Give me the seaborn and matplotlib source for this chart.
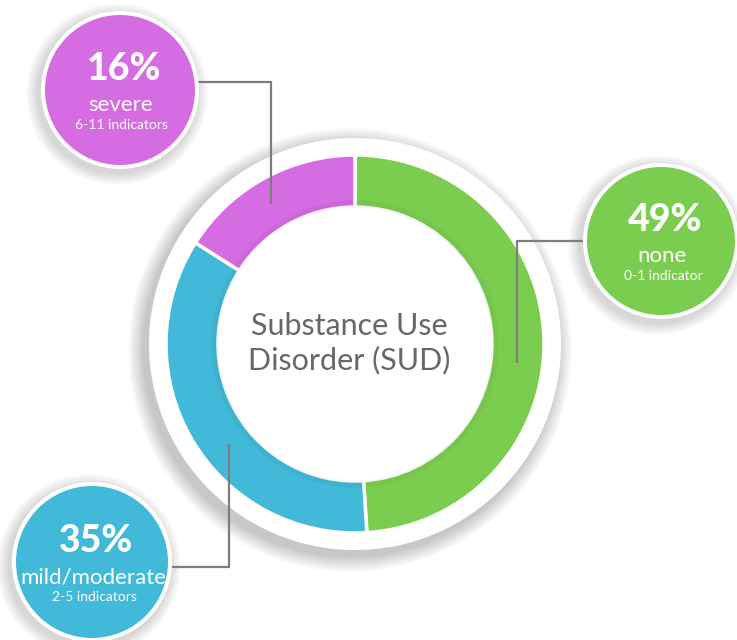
import matplotlib
matplotlib.use("Agg")
import matplotlib.pyplot as plt
from matplotlib.patches import Circle
import seaborn as sns

# data
labels = ["none", "mild/moderate", "severe"]
shares = [49, 35, 16]
ranges = ["0-1 indicator", "2-5 indicators", "6-11 indicators"]
colors = ["#7BCD4F", "#42B9D8", "#D56CE1"]
title_lines = ["Substance Use", "Disorder (SUD)"]

sns.set_theme(style="white")
palette = sns.color_palette(colors)

W, H = 737, 640
fig = plt.figure(figsize=(W / 100, H / 100), dpi=100)
ax = fig.add_axes([0, 0, 1, 1])

# layout (pixels, y down)
cx, cy = 355, 344
r_out, r_in, r_white = 189, 137, 206
bubbles = [(661, 241, 74), (92, 562, 76), (120, 90, 75)]
leaders = [
    [(585, 241), (517, 241), (517, 363)],
    [(168, 567), (229, 567), (229, 444)],
    [(198, 82), (271, 82), (271, 204)],
]


def shadow(x, y, r, ax, n=14, spread=16, dx=-5, dy=6, a=0.014):
    for i in range(n, 0, -1):
        ax.add_patch(Circle((x + dx, y + dy), r + spread * i / n,
                            color="black", alpha=a, lw=0, zorder=1))


# main ring
shadow(cx, cy, r_white, ax)
ax.add_patch(Circle((cx, cy), r_white, color="white", lw=0, zorder=2))
ax.pie(shares, colors=palette, startangle=-90, counterclock=True,
       center=(cx, cy), radius=r_out,
       wedgeprops=dict(width=r_out - r_in, edgecolor="white", linewidth=2.5),
       frame=True)
for p in ax.patches[-3:]:
    p.set_zorder(3)
# soft inner shading of ring
for i in range(6):
    ax.add_patch(Circle((cx, cy), r_in + i * 1.2, fill=False,
                        ec="black", alpha=0.025, lw=1.3, zorder=4))
ax.add_patch(Circle((cx, cy), r_in - 0.5, color="white", lw=0, zorder=4))

ax.text(cx - 6, cy - 18, title_lines[0], ha="center", va="center",
        fontsize=22, color="#676767", family=["Lato", "DejaVu Sans"], zorder=6)
ax.text(cx - 6, cy + 16, title_lines[1], ha="center", va="center",
        fontsize=22, color="#676767", family=["Lato", "DejaVu Sans"], zorder=6)

# leader lines
for pts in leaders:
    xs, ys = zip(*pts)
    ax.plot(xs, ys, color="#7d7d7d", lw=1.6, zorder=7, solid_capstyle="butt")

# bubbles
for (bx, by, br), col, lab, rng, val in zip(bubbles, palette, labels, ranges, shares):
    shadow(bx, by, br + 4, ax, n=10, spread=12, dx=-3, dy=4)
    ax.add_patch(Circle((bx, by), br + 4, color="white", lw=0, zorder=8))
    ax.add_patch(Circle((bx, by), br, color=col, lw=0, zorder=9))
    ax.text(bx + 4, by - 21, f"{val}%", ha="center", va="center", fontsize=27,
            fontweight="black", color="white",
            family=["Lato", "Roboto", "DejaVu Sans"], zorder=10)
    ax.text(bx + 1, by + 15, lab, ha="center", va="center", fontsize=16,
            color="white", family=["Lato", "DejaVu Sans"], zorder=10)
    ax.text(bx + 2, by + 35, rng, ha="center", va="center", fontsize=10,
            color="white", family=["Lato", "DejaVu Sans"], zorder=10)

ax.set_xlim(0, W)
ax.set_ylim(H, 0)
ax.set_aspect("equal")
ax.axis("off")
fig.savefig("out.png", dpi=100, facecolor="white")
